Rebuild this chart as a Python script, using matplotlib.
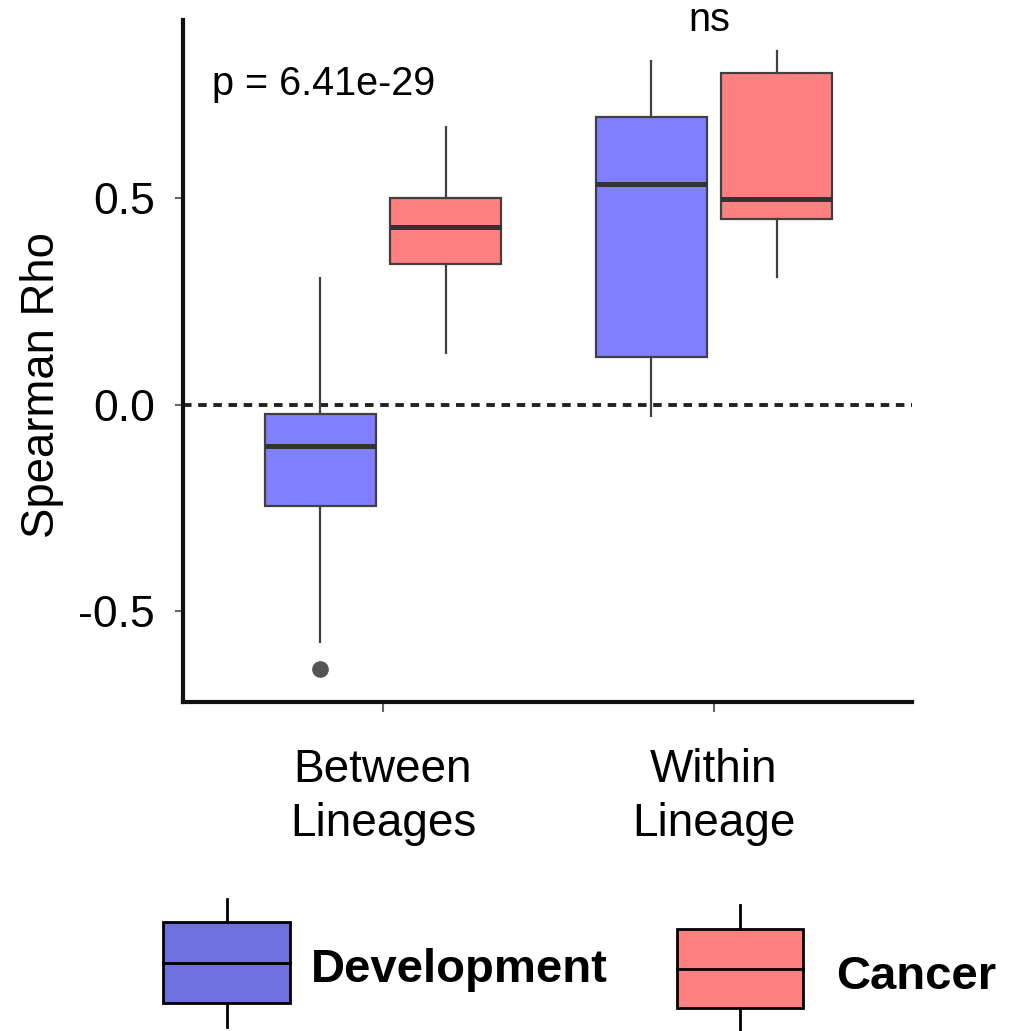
import matplotlib
matplotlib.use("Agg")
import matplotlib.pyplot as plt
import matplotlib.patches as patches

plt.rcParams['font.family'] = ['Liberation Sans', 'DejaVu Sans']

# ============= DATA =============
categories = ['Between\nLineages', 'Within\nLineage']
groups = ['Development', 'Cancer']
colors = ['#8080FF', '#FF8080']
legend_colors = ['#7070E0', '#FF8080']

# box stats: [Between, Within]
dev_whislo = [-0.575, -0.029]
dev_q1 = [-0.245, 0.114]
dev_med = [-0.100, 0.534]
dev_q3 = [-0.022, 0.696]
dev_whishi = [0.306, 0.833]
dev_fliers = [[-0.641], []]

can_whislo = [0.124, 0.308]
can_q1 = [0.340, 0.450]
can_med = [0.430, 0.499]
can_q3 = [0.500, 0.803]
can_whishi = [0.672, 0.856]
can_fliers = [[], []]

p_label = 'p = 6.41e-29'
ns_label = 'ns'
yticks = [-0.5, 0.0, 0.5]


def make_stats(whislo, q1, med, q3, whishi, fliers):
    return [dict(whislo=a, q1=b, med=c, q3=d, whishi=e, fliers=f)
            for a, b, c, d, e, f in zip(whislo, q1, med, q3, whishi, fliers)]


dev_stats = make_stats(dev_whislo, dev_q1, dev_med, dev_q3, dev_whishi, dev_fliers)
can_stats = make_stats(can_whislo, can_q1, can_med, can_q3, can_whishi, can_fliers)

# ============= PLOT =============
fig = plt.figure(figsize=(10.23, 10.31), dpi=100)
ax = fig.add_axes([0.1789, 0.3191, 0.7126, 0.6615])

offset = 0.189
width = 0.336
base = [1, 2]
edge = '#404040'

for stats, col, sign in [(dev_stats, colors[0], -1), (can_stats, colors[1], 1)]:
    pos = [b + sign * offset for b in base]
    ax.bxp(stats, positions=pos, widths=width, patch_artist=True, showcaps=False,
           boxprops=dict(facecolor=col, edgecolor=edge, linewidth=1.6),
           medianprops=dict(color='#333333', linewidth=3.6, solid_capstyle='butt'),
           whiskerprops=dict(color=edge, linewidth=1.6),
           flierprops=dict(marker='o', markersize=11, markerfacecolor='#555555',
                           markeredgecolor='#555555'),
           manage_ticks=False)

ax.axhline(0, color='#222222', linewidth=2.8, linestyle=(0, (2.2, 1.7)), zorder=0)

ax.set_xlim(0.396, 2.598)
ax.set_ylim(-0.721, 0.932)
ax.set_xticks(base)
ax.set_xticklabels(categories, fontsize=33, linespacing=1.3)
ax.set_yticks(yticks)
ax.set_yticklabels(['-0.5', '0.0', '0.5'], fontsize=32)
ax.tick_params(axis='y', length=6, width=1.5, color='#666666', pad=14)
ax.tick_params(axis='x', length=7, width=1.5, color='#666666', pad=26)
ax.set_ylabel('Spearman Rho', fontsize=32.8)
ax.yaxis.set_label_coords(-0.163, 0.465)

for side in ['top', 'right']:
    ax.spines[side].set_visible(False)
for side in ['left', 'bottom']:
    ax.spines[side].set_linewidth(3)
    ax.spines[side].set_color('#111111')

ax.text(0.484, 0.777, p_label, fontsize=28.5, va='center', ha='left')
ax.text(1.985, 0.932, ns_label, fontsize=28.5, va='center', ha='center', clip_on=False)

# ============= LEGEND (drawn in pixel coords) =============
lax = fig.add_axes([0, 0, 1, 1], zorder=-1)
lax.set_xlim(0, 1023)
lax.set_ylim(1031, 0)
lax.axis('off')

legend_keys = [
    # x0, x1, top, bottom, wtop, wbot, label x, label y
    (163, 290, 922, 1003, 899, 1027, 311, 970),
    (677, 803, 929, 1008, 905, 1031, 836, 977),
]
for (x0, x1, top, bot, wt, wb, tx, ty), col, name in zip(legend_keys, legend_colors, groups):
    lax.add_patch(patches.Rectangle((x0, top), x1 - x0, bot - top, facecolor=col,
                                    edgecolor='black', linewidth=2))
    mid = (top + bot) / 2
    xc = (x0 + x1) / 2
    lax.plot([x0, x1], [mid, mid], color='black', linewidth=2)
    lax.plot([xc, xc], [wt, top], color='black', linewidth=2)
    lax.plot([xc, xc], [bot, wb], color='black', linewidth=2)
    lax.text(tx, ty, name, fontsize=34, fontweight='bold', va='center', ha='left')

fig.savefig('out.png', dpi=100)
